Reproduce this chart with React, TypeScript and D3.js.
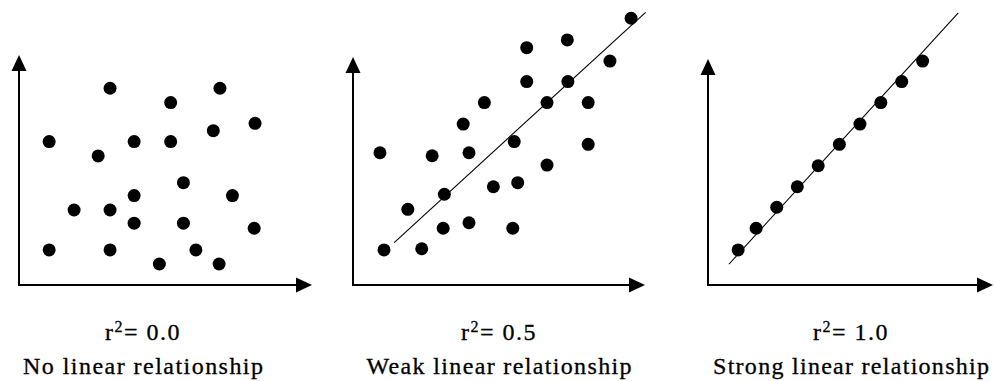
import React from 'react';
import * as d3 from 'd3';

// ---- data (units: 0..10 on each axis) ----
const noRelX = [3.14, 6.93, 5.23, 8.14, 6.70, 1.04, 3.97, 5.23, 2.73, 5.67, 3.97, 7.36, 1.90, 3.14, 3.97, 5.67, 8.11, 1.04, 3.14, 6.10, 4.84, 6.90];
const noRelY = [8.63, 8.63, 8.00, 7.09, 6.77, 6.29, 6.29, 6.29, 5.66, 4.49, 3.92, 3.92, 3.29, 3.29, 2.71, 2.71, 2.49, 1.54, 1.54, 1.54, 0.92, 0.92];

const weakX = [9.59, 7.39, 5.99, 8.86, 5.99, 7.41, 4.53, 6.69, 8.11, 3.80, 5.56, 8.11, 0.93, 2.73, 4.00, 6.69, 4.84, 5.68, 3.15, 1.89, 3.11, 4.00, 5.51, 1.07, 2.37];
const weakY = [11.70, 10.75, 10.41, 9.82, 8.92, 8.92, 8.00, 8.00, 8.00, 7.06, 6.29, 6.17, 5.80, 5.67, 5.80, 5.26, 4.31, 4.49, 3.98, 3.32, 2.49, 2.73, 2.49, 1.54, 1.59];
const weakLineX = [1.42, 10.09];
const weakLineY = [1.86, 11.96];

const strongX = [1.04, 1.66, 2.37, 3.08, 3.80, 4.53, 5.24, 5.96, 6.68, 7.40];
const strongY = [1.54, 2.49, 3.41, 4.31, 5.23, 6.17, 7.06, 8.00, 8.92, 9.82];
const strongLineX = [0.72, 8.63];
const strongLineY = [0.91, 11.94];

const rSquared = ['0.0', '0.5', '1.0'];
const captions = ['No linear relationship', 'Weak linear relationship', 'Strong linear relationship'];

const seriesX = [noRelX, weakX, strongX];
const seriesY = [noRelY, weakY, strongY];
const linesX = [null, weakLineX, strongLineX];
const linesY = [null, weakLineY, strongLineY];

// ---- layout ----
const W = 994;
const H = 381;
const baseY = 285;
const panels = [
  { ox: 19, tipX: 312, tipY: 55, labelX: 143, capW: 240 },
  { ox: 353, tipX: 645, tipY: 57, labelX: 499, capW: 265 },
  { ox: 708, tipX: 993, tipY: 59, labelX: 851, capW: 276 },
];
const FONT = "'Liberation Serif', Tinos, 'Times New Roman', serif";

export default function App() {
  return (
    <svg width={W} height={H} style={{ position: 'absolute', left: 0, top: 0, background: '#fff' }}>
      <rect x={0} y={0} width={W} height={H} fill="#fff" />
      {panels.map((p, i) => {
        const x = d3.scaleLinear().domain([0, 10]).range([p.ox, p.ox + 290]);
        const y = d3.scaleLinear().domain([0, 10]).range([baseY, baseY - 228]);
        const pts = seriesX[i].map((v, k) => [v, seriesY[i][k]] as [number, number]);
        const lx = linesX[i];
        const ly = linesY[i];
        const line = d3.line<[number, number]>().x(d => x(d[0])).y(d => y(d[1]));
        const regPath = lx && ly ? line(lx.map((v, k) => [v, ly[k]] as [number, number])) : null;
        const ah = 16;
        const hw = 7.5;
        return (
          <g key={i}>
            <line x1={p.ox} y1={baseY + 1} x2={p.ox} y2={p.tipY + ah - 2} stroke="#000" strokeWidth={2} />
            <line x1={p.ox - 1} y1={baseY} x2={p.tipX - ah + 2} y2={baseY} stroke="#000" strokeWidth={2} />
            <path d={`M${p.ox},${p.tipY} L${p.ox - hw},${p.tipY + ah} L${p.ox + hw},${p.tipY + ah} Z`} fill="#000" />
            <path d={`M${p.tipX},${baseY} L${p.tipX - ah},${baseY - hw} L${p.tipX - ah},${baseY + hw} Z`} fill="#000" />
            {regPath && <path d={regPath} fill="none" stroke="#000" strokeWidth={1.1} />}
            {pts.map((d, k) => (
              <circle key={k} cx={x(d[0])} cy={y(d[1])} r={6.5} fill="#000" />
            ))}
            <text x={p.labelX} y={340} textAnchor="middle" style={{ fontFamily: FONT, fontSize: '24px', letterSpacing: '1.5px' }} fill="#000" stroke="#000" strokeWidth={0.3}>
              r<tspan style={{ fontSize: '16px' }} dy={-8}>2</tspan>
              <tspan dy={8}>{'= ' + rSquared[i]}</tspan>
            </text>
            <text
              x={p.labelX}
              y={374}
              textAnchor="middle"
              style={{ fontFamily: FONT, fontSize: '24px' }}
              fill="#000"
              stroke="#000"
              strokeWidth={0.3}
              textLength={p.capW}
              lengthAdjust="spacing"
            >
              {captions[i]}
            </text>
          </g>
        );
      })}
    </svg>
  );
}
